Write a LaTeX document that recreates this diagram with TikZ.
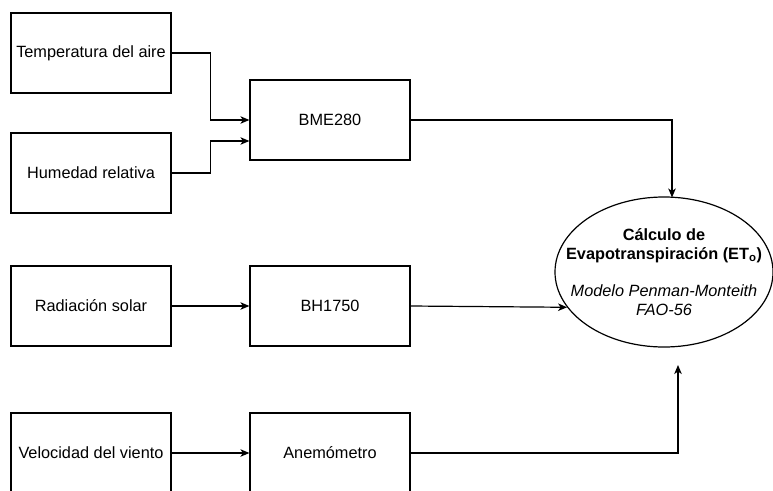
\documentclass[tikz,border=0pt]{standalone}
\usepackage{fontspec}
\setmainfont{Liberation Sans}
\usetikzlibrary{arrows.meta,shapes.geometric,calc}
\begin{document}
\begin{tikzpicture}[x=1pt,y=-1pt,
  font=\fontsize{16.3}{19}\selectfont,
  box/.style={draw=black,line width=1.2pt,minimum width=160pt,minimum height=80pt,inner sep=0pt,anchor=center},
  link/.style={draw=black,line width=1.2pt,-{Stealth[length=9pt,width=7.5pt,inset=2.5pt]}}]
\useasboundingbox (0,0) rectangle (773,490);
\clip (0,0) rectangle (773,490);
\fill[white] (0,0) rectangle (773,490);

% input quantities
\node[box] (temp) at (91,53)  {Temperatura del aire};
\node[box] (hum)  at (91,173) {Humedad relativa};
\node[box] (rad)  at (91,306) {Radiación solar};
\node[box] (wind) at (91,453) {Velocidad del viento};

% sensors
\node[box] (bme) at (330,120) {BME280};
\node[box] (bh)  at (330,306) {BH1750};
\node[box] (ane) at (330,453) {Anemómetro};

% evapotranspiration model: outline and its text
\node[draw=black,line width=1.2pt,ellipse,minimum width=218pt,minimum height=150pt,inner sep=0pt]
  (et) at (664,272) {};
\node[align=center,inner sep=0pt] (ettext) at (et.center)
  {{\bfseries Cálculo de}\\
   {\bfseries Evapotranspiración (ET\textsubscript{o})}\\[18pt]
   {\itshape Modelo Penman-Monteith}\\
   {\itshape FAO-56}};

\coordinate (ettop) at (672,197.5);
\coordinate (wtip) at (678,365);

% connectors
\draw[link] (temp.east) -- ++(39,0) |- (bme.west);
\draw[link] (hum.east) -- ++(39,0) |- ($(bme.west)+(0,21)$);
\draw[link] (rad.east) -- (bh.west);
\draw[link] (wind.east) -- (ane.west);
\draw[link] (bme.east) -| (ettop);
\draw[link] (bh.east) -- (et.200);
\draw[link] (ane.east) -| (wtip);
\end{tikzpicture}
\end{document}
